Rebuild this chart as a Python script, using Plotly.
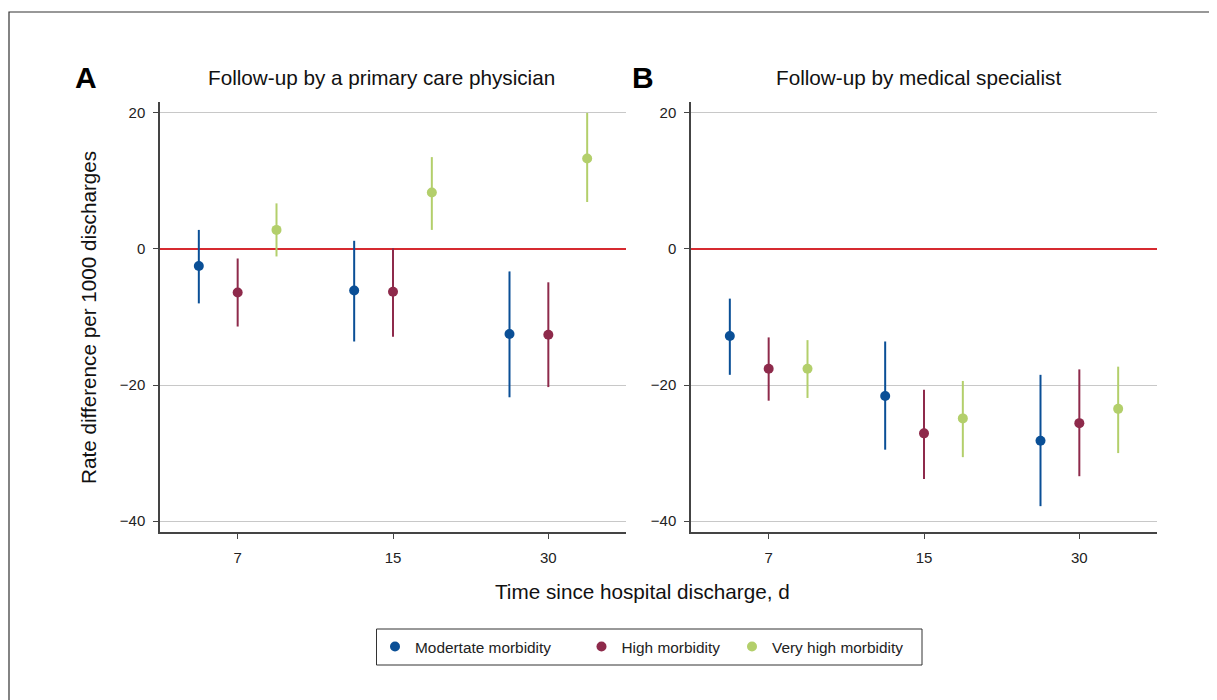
import plotly.graph_objects as go

# ---- data ----
days = ["7", "15", "30"]
series_names = ["Modertate morbidity", "High morbidity", "Very high morbidity"]
series_colors = ["#0a4f96", "#8e2a4b", "#b3cf6b"]

# Panel A: follow-up by a primary care physician
pcp_est = {
    "Modertate morbidity": [-2.5, -6.1, -12.5],
    "High morbidity": [-6.4, -6.3, -12.6],
    "Very high morbidity": [2.8, 8.3, 13.3],
}
pcp_low = {
    "Modertate morbidity": [-8.0, -13.6, -21.8],
    "High morbidity": [-11.4, -12.9, -20.3],
    "Very high morbidity": [-1.1, 2.8, 6.9],
}
pcp_high = {
    "Modertate morbidity": [2.8, 1.2, -3.3],
    "High morbidity": [-1.4, 0.1, -4.9],
    "Very high morbidity": [6.7, 13.5, 20.0],
}

# Panel B: follow-up by medical specialist
spec_est = {
    "Modertate morbidity": [-12.8, -21.6, -28.2],
    "High morbidity": [-17.6, -27.1, -25.6],
    "Very high morbidity": [-17.6, -24.9, -23.5],
}
spec_low = {
    "Modertate morbidity": [-18.5, -29.5, -37.8],
    "High morbidity": [-22.3, -33.8, -33.4],
    "Very high morbidity": [-21.9, -30.6, -30.0],
}
spec_high = {
    "Modertate morbidity": [-7.3, -13.6, -18.5],
    "High morbidity": [-13.0, -20.7, -17.7],
    "Very high morbidity": [-13.4, -19.4, -17.3],
}

offsets = [-0.25, 0.0, 0.25]
panel_titles = ["Follow-up by a primary care physician", "Follow-up by medical specialist"]
panel_letters = ["A", "B"]
y_ticks = [-40, -20, 0, 20]

FONT = "Liberation Sans, Arial, Helvetica, sans-serif"
legend_ids = ["legend", "legend2", "legend3"]

fig = go.Figure()

panels = [(pcp_est, pcp_low, pcp_high, "x", "y"), (spec_est, spec_low, spec_high, "x2", "y2")]
for p, (est, low, high, xa, ya) in enumerate(panels):
    for i, name in enumerate(series_names):
        e = est[name]
        xs = [k + 1 + offsets[i] for k in range(len(days))]
        fig.add_trace(go.Scatter(
            x=xs, y=e, mode="markers", name=name,
            marker=dict(color=series_colors[i], size=10),
            error_y=dict(type="data", symmetric=False,
                         array=[h - v for h, v in zip(high[name], e)],
                         arrayminus=[v - l for v, l in zip(e, low[name])],
                         width=0, thickness=2, color=series_colors[i]),
            xaxis=xa, yaxis=ya, showlegend=(p == 0), legendgroup=name,
            legend=legend_ids[i],
        ))

axis_common_x = dict(range=[0.5, 3.5], tickvals=[1, 2, 3], ticktext=days,
                     showgrid=False, zeroline=False, showline=True, linecolor="#444",
                     linewidth=1.5, ticks="outside", ticklen=5, tickcolor="#444",
                     ticklabelstandoff=6,
                     tickfont=dict(size=15, color="#222"))
axis_common_y = dict(range=[-41.6, 21.6], tickvals=y_ticks, showgrid=True,
                     gridcolor="#c8c8c8", gridwidth=1.3, zeroline=True,
                     zerolinecolor="#d62a30", zerolinewidth=1.5, showline=True,
                     linecolor="#444", linewidth=1.5, ticks="outside", ticklen=5,
                     tickcolor="#444", ticklabelstandoff=5,
                     tickfont=dict(size=15, color="#222"))

OFF = 8  # page body margin
W, H = 1217 - OFF, 700 - OFF
L, R, T, B = 160 - OFF, W - (1157 - OFF), 102 - OFF, H - (532 - OFF)
pw = W - L - R
ph = H - T - B

def px_x(px):
    return (px - OFF - L) / pw

def px_y(py):
    return (H - B - (py - OFF)) / ph

legend_common = dict(orientation="h", xanchor="left", yanchor="top",
                     borderwidth=0, font=dict(size=15.4, color="#222"),
                     bgcolor="rgba(0,0,0,0)")
legend_marker_x = [395, 601.5, 752]

fig.update_layout(
    width=W, height=H,
    margin=dict(l=L, r=R, t=T, b=B),
    paper_bgcolor="white", plot_bgcolor="white",
    font=dict(family=FONT, color="#222"),
    xaxis=dict(domain=[0, px_x(626)], **axis_common_x),
    xaxis2=dict(domain=[px_x(691), 1], anchor="y2", **axis_common_x),
    yaxis=dict(anchor="x", **axis_common_y),
    yaxis2=dict(anchor="x2", **axis_common_y),
    legend=dict(x=px_x(legend_marker_x[0] - 20), y=px_y(630), **legend_common),
    legend2=dict(x=px_x(legend_marker_x[1] - 20), y=px_y(630), **legend_common),
    legend3=dict(x=px_x(legend_marker_x[2] - 20), y=px_y(630), **legend_common),
    showlegend=True,
)

# legend frame
fig.add_shape(type="rect", xref="paper", yref="paper",
              x0=px_x(376.5), x1=px_x(922), y0=px_y(665), y1=px_y(629),
              line=dict(color="#333", width=1), fillcolor="rgba(0,0,0,0)", layer="below")

# y-axis title
fig.add_annotation(text="Rate difference per 1000 discharges", x=px_x(88), y=px_y(318),
                   xref="paper", yref="paper", textangle=-90, showarrow=False,
                   font=dict(size=20.7, color="#111"), xanchor="center", yanchor="middle")
# x-axis title
fig.add_annotation(text="Time since hospital discharge, d", x=px_x(642), y=px_y(591),
                   xref="paper", yref="paper", showarrow=False,
                   font=dict(size=20.7, color="#111"), xanchor="center", yanchor="middle")
# panel titles and letters
title_centers = [381, 918]
letter_centers = [86, 643]
for k in range(2):
    fig.add_annotation(text=panel_titles[k], x=px_x(title_centers[k]), y=px_y(78),
                       xref="paper", yref="paper", showarrow=False,
                       font=dict(size=20.7, color="#111"), xanchor="center", yanchor="middle")
    fig.add_annotation(text="<b>" + panel_letters[k] + "</b>", x=px_x(letter_centers[k]), y=px_y(78),
                       xref="paper", yref="paper", showarrow=False,
                       font=dict(size=30, color="#000"), xanchor="center", yanchor="middle")

# outer frame (its right and bottom edges fall outside the picture)
fig.add_shape(type="rect", xref="paper", yref="paper",
              x0=px_x(9), x1=px_x(1240), y0=px_y(712), y1=px_y(12),
              line=dict(color="#333", width=1.2), fillcolor="rgba(0,0,0,0)", layer="below")

fig.write_html("out.html")
